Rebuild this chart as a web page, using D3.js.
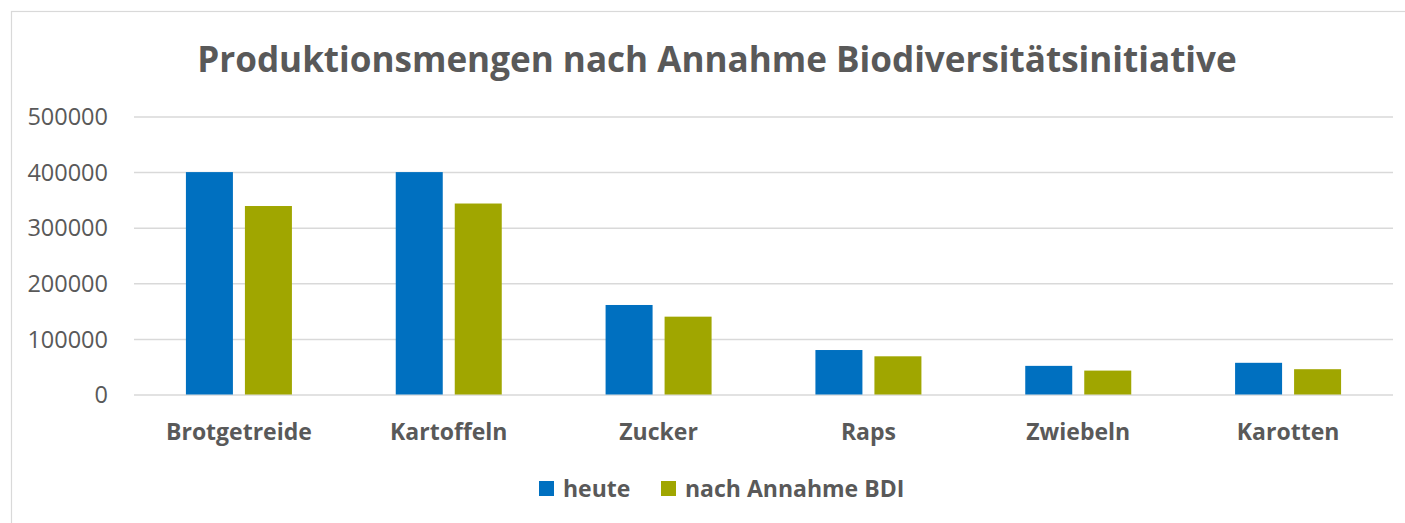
<!DOCTYPE html>
<html><head><meta charset="utf-8">
<script src="https://cdn.jsdelivr.net/npm/d3@7"></script>
<style>html,body{margin:0;padding:0;background:#fff;overflow:hidden}</style>
</head><body>
<svg id="c" width="1405" height="523"></svg>
<script>
const title = "Produktionsmengen nach Annahme Biodiversitätsinitiative";
const categories = ["Brotgetreide","Kartoffeln","Zucker","Raps","Zwiebeln","Karotten"];
const seriesNames = ["heute","nach Annahme BDI"];
const heute = [400000,400000,161000,80000,51500,57000];
const nachBDI = [339000,343500,140000,68700,43000,45500];
const yTicks = [0,100000,200000,300000,400000,500000];
const colors = ["#0070C0","#A0A600"];

const svg = d3.select("#c");
const font = "'Open Sans', sans-serif";
const grey = "#595959";

svg.append("rect").attr("x",11.5).attr("y",11.5).attr("width",1420).attr("height",530)
  .attr("fill","#fff").attr("stroke","#d9d9d9").attr("stroke-width",1.2);

const x0 = d3.scaleBand().domain(categories).range([134,1393]).paddingInner(0).paddingOuter(0);
const y = d3.scaleLinear().domain([0,500000]).range([394.5,116.5]);
const bw = 47, gap = 12;

const yAxis = d3.axisLeft(y).tickValues(yTicks).tickSize(-(1393-134)).tickFormat(d3.format("d")).tickPadding(26);
const ga = svg.append("g").attr("transform","translate(134,0)").call(yAxis);
ga.select(".domain").remove();
ga.selectAll(".tick line").attr("stroke","#d9d9d9").attr("stroke-width",1.5);
ga.selectAll(".tick text").attr("fill",grey).style("font-family",font).style("font-size","23.5px").attr("dy","0.35em");

const data = categories.map((c,i)=>({c, v:[heute[i], nachBDI[i]]}));
const g = svg.append("g");
data.forEach(d=>{
  const cx = x0(d.c) + x0.bandwidth()/2;
  d.v.forEach((v,j)=>{
    const xl = j===0 ? cx - gap/2 - bw : cx + gap/2;
    g.append("rect").attr("x",xl).attr("y",y(v)).attr("width",bw).attr("height",y(0)-y(v)).attr("fill",colors[j]);
  });
});

const xAxis = d3.axisBottom(x0).tickSize(0).tickPadding(29);
const gx = svg.append("g").attr("transform",`translate(0,${y(0)})`).call(xAxis);
gx.select(".domain").remove();
gx.selectAll(".tick text").attr("fill",grey).style("font-family",font).style("font-size","23px").style("font-weight","bold");

const t = svg.append("text").attr("x",717).attr("y",72).attr("text-anchor","middle")
  .attr("fill",grey).style("font-family",font).style("font-weight","bold").style("font-size","36px").text(title);
const tw = t.node().getComputedTextLength();
t.style("font-size", (36*1040/tw)+"px");

const legX = [539, 661];
seriesNames.forEach((s,i)=>{
  svg.append("rect").attr("x",legX[i]).attr("y",481).attr("width",15).attr("height",15).attr("fill",colors[i]);
  svg.append("text").attr("x",legX[i]+24).attr("y",489).attr("dy","0.35em").attr("fill",grey)
    .style("font-family",font).style("font-weight","bold").style("font-size","23px").text(s);
});
</script>
</body></html>
